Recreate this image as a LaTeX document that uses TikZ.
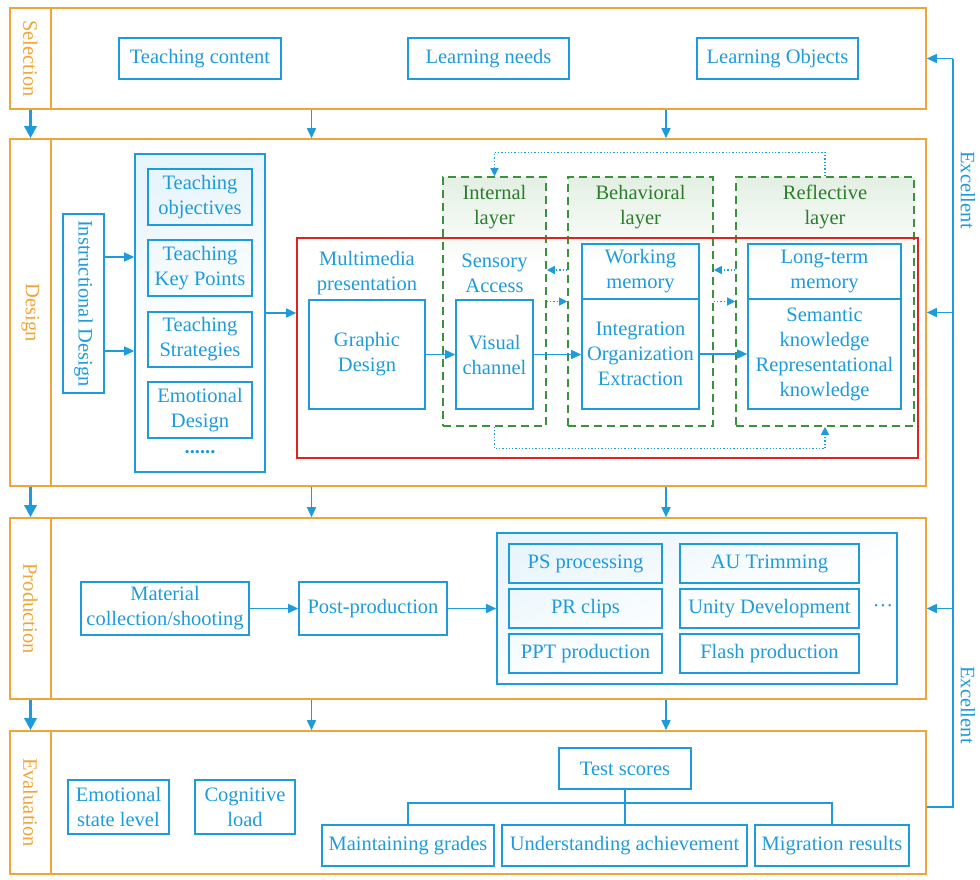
\documentclass[tikz,border=0pt]{standalone}
\usepackage{graphicx}
\usepackage{fontspec}
\setmainfont{Liberation Serif}
\usetikzlibrary{arrows.meta,calc,shadings}
\definecolor{bl}{RGB}{30,155,220}
\definecolor{org}{RGB}{240,165,55}
\definecolor{gr}{RGB}{60,145,60}
\definecolor{dg}{RGB}{45,125,45}
\definecolor{rd}{RGB}{225,35,30}
\colorlet{gfade}{gr!14}
\colorlet{bfade}{bl!10}
\pgfdeclareverticalshading{greenfade}{100bp}{color(0bp)=(white); color(57bp)=(white); color(75bp)=(gfade); color(100bp)=(gfade)}
\pgfdeclareverticalshading{bluefade}{100bp}{color(0bp)=(white); color(45bp)=(white); color(75bp)=(bfade); color(100bp)=(bfade)}
\tikzset{
  box/.style={draw=bl, line width=1.6pt, text=bl, align=center, inner sep=0pt},
  stage/.style={draw=org, line width=1.6pt, inner sep=0pt},
  stagelab/.style={stage, text=org},
  arr/.style={draw=bl, line width=1.5pt, -{Triangle[length=10pt,width=9pt]}},
  thickarr/.style={draw=bl, line width=3pt, -{Triangle[length=12pt,width=12pt]}},
  dotarr/.style={draw=bl, line width=1.3pt, dotted, -{Triangle[length=8pt,width=8pt]}},
  line/.style={draw=bl, line width=1.5pt},
  layer/.style={draw=gr, line width=1.6pt, dash pattern=on 8pt off 5pt, shading=greenfade, inner sep=0pt},
  panel/.style={box, shading=bluefade, shading angle=20},
  layertxt/.style={text=dg, align=center},
  btxt/.style={text=bl, align=center}
}
\begin{document}
\begin{tikzpicture}[x=1pt,y=-1pt, font=\fontsize{20.5}{25}\selectfont]
\useasboundingbox (0,0) rectangle (980,879);

% ---------- stages ----------
\node[stagelab, minimum width=41, minimum height=101] (sell) at (30.5,58.5) {\rotatebox{-90}{Selection}};
\node[stage, minimum width=875, minimum height=101] (sel) at (488.5,58.5) {};
\node[stagelab, minimum width=41, minimum height=347] (desl) at (30.5,312.5) {\rotatebox{-90}{Design}};
\node[stage, minimum width=875, minimum height=347] (des) at (488.5,312.5) {};
\node[stagelab, minimum width=41, minimum height=181] (prol) at (30.5,608.5) {\rotatebox{-90}{Production}};
\node[stage, minimum width=875, minimum height=181] (pro) at (488.5,608.5) {};
\node[stagelab, minimum width=41, minimum height=143] (eval) at (30.5,802.5) {\rotatebox{-90}{Evaluation}};
\node[stage, minimum width=875, minimum height=143] (eva) at (488.5,802.5) {};

% ---------- selection ----------
\node[box, minimum width=162, minimum height=41] (tc) at (200,58.5) {Teaching content};
\node[box, minimum width=161, minimum height=41] (ln) at (488.5,58.5) {Learning needs};
\node[box, minimum width=161, minimum height=41] (lo) at (777.5,58.5) {Learning Objects};

% ---------- design ----------
\node[box, minimum width=41, minimum height=179] (id) at (83.5,303.5) {\rotatebox{-90}{Instructional Design}};
\node[panel, minimum width=130, minimum height=318] (td) at (200,313) {};
\node[box, minimum width=104, minimum height=56] (obj) at (200,197) {Teaching\\objectives};
\node[box, minimum width=104, minimum height=56] (key) at (200,268) {Teaching\\Key Points};
\node[box, minimum width=104, minimum height=55] (str) at (200,339.5) {Teaching\\Strategies};
\node[box, minimum width=104, minimum height=56] (emo) at (200,410) {Emotional\\Design};
\node[btxt] (dots) at (200,452) {\textbf{......}};

\node[layer, minimum width=103, minimum height=249] (il) at (494.5,301.5) {};
\node[layer, minimum width=145, minimum height=249] (bhl) at (640.5,301.5) {};
\node[layer, minimum width=178, minimum height=249] (rl) at (825,301.5) {};
\node[draw=rd, line width=1.6pt, minimum width=621, minimum height=220, inner sep=0pt] (rb) at (607.5,348) {};

\node[layertxt] (ilt) at (494.5,207) {Internal\\layer};
\node[layertxt] (bhlt) at (640.5,207) {Behavioral\\layer};
\node[layertxt] (rlt) at (825,207) {Reflective\\layer};

\node[btxt] (mmt) at (367,273) {Multimedia\\presentation};
\node[box, minimum width=116, minimum height=109] (gd) at (367,354.5) {Graphic\\Design};
\node[btxt] (sat) at (494.5,273) {Sensory\\Access};
\node[box, minimum width=77, minimum height=109] (vc) at (494.5,354.5) {Visual\\channel};
\node[box, minimum width=117, minimum height=55] (wm) at (640.5,271.5) {Working\\memory};
\node[box, minimum width=117, minimum height=110] (ioe) at (640.5,354) {Integration\\Organization\\Extraction};
\node[box, minimum width=153, minimum height=55] (ltm) at (824.5,271.5) {Long-term\\memory};
\node[box, minimum width=153, minimum height=110] (sk) at (824.5,354) {Semantic\\knowledge\\Representational\\knowledge};

\path ($(id.east)+(0,-46.5)$) coordinate (a1) ($(id.east)+(0,47.5)$) coordinate (a2);
\draw[arr] (a1) -- (a1 -| td.west);
\draw[arr] (a2) -- (a2 -| td.west);
\draw[arr] (td.east) -- (td.east -| rb.west);
\draw[arr] (gd) -- (vc);
\draw[arr] (vc.east) -- (vc.east -| ioe.west);
\draw[arr] (ioe) -- (sk);

\path ($(il.east)+(0,-31.5)$) coordinate (d1) ($(bhl.east)+(0,-31.5)$) coordinate (d2);
\draw[dotarr] (d1 -| bhl.west) -- (d1);
\draw[dotarr] (il.east) -- (bhl.west);
\draw[dotarr] (d2 -| rl.west) -- (d2);
\draw[dotarr] (bhl.east) -- (rl.west);
\draw[dotarr] (rl.north) -- ++(0,-24) -| (il.north);
\draw[dotarr] (il.south) -- ++(0,22) -| (rl.south);

% ---------- production ----------
\node[box, minimum width=168, minimum height=53] (mc) at (165,608.5) {Material\\collection/shooting};
\node[box, minimum width=148, minimum height=53] (pp) at (373,608.5) {Post-production};
\node[panel, minimum width=400, minimum height=151] (pt) at (697,608.5) {};
\node[box, minimum width=153, minimum height=39] (ps) at (585.5,563.5) {PS processing};
\node[box, minimum width=179, minimum height=39] (au) at (769.5,563.5) {AU Trimming};
\node[box, minimum width=153, minimum height=39] (pr) at (585.5,608.5) {PR clips};
\node[box, minimum width=179, minimum height=39] (ud) at (769.5,608.5) {Unity Development};
\node[box, minimum width=153, minimum height=39] (ppt) at (585.5,653.5) {PPT production};
\node[box, minimum width=179, minimum height=39] (fl) at (769.5,653.5) {Flash production};
\node[btxt] (more) at (883,608.5) {···};
\draw[arr] (mc) -- (pp);
\draw[arr] (pp) -- (pt);

% ---------- evaluation ----------
\node[box, minimum width=101, minimum height=54] (esl) at (118.5,807) {Emotional\\state level};
\node[box, minimum width=100, minimum height=54] (cl) at (245,807) {Cognitive\\load};
\node[box, minimum width=132, minimum height=41] (ts) at (625,768.5) {Test scores};
\node[box, minimum width=172, minimum height=41] (mg) at (408,845.5) {Maintaining grades};
\node[box, minimum width=245, minimum height=41] (ua) at (624.5,845.5) {Understanding achievement};
\node[box, minimum width=154, minimum height=41] (mr) at (832,845.5) {Migration results};
\draw[line] (ts.south) -- ++(0,13) coordinate (br);
\draw[line] (mg.north) |- (br) -| (mr.north);
\draw[line] (br) -- (br |- ua.north);

% ---------- stage arrows ----------
\coordinate (ca) at (311.5,0);
\coordinate (cb) at (666,0);
\draw[thickarr] (sell.south) -- (desl.north);
\draw[thickarr] (desl.south) -- (prol.north);
\draw[thickarr] (prol.south) -- (eval.north);
\draw[arr] (sel.south -| ca) -- (des.north -| ca);
\draw[arr] (sel.south -| cb) -- (des.north -| cb);
\draw[arr] (des.south -| ca) -- (pro.north -| ca);
\draw[arr] (des.south -| cb) -- (pro.north -| cb);
\draw[arr] (pro.south -| ca) -- (eva.north -| ca);
\draw[arr] (pro.south -| cb) -- (eva.north -| cb);

% ---------- excellent feedback ----------
\coordinate (xb) at (953,807);
\coordinate (xt) at (953,58.5);
\draw[line] (eva.east |- xb) -- (xb) -- (xt);
\draw[arr] (xt) -- (sel.east);
\draw[arr] (des.east -| xb) -- (des.east);
\draw[arr] (pro.east -| xb) -- (pro.east);
\node[btxt, rotate=-90] (ex1) at (968,190) {Excellent};
\node[btxt, rotate=-90] (ex2) at (968,705) {Excellent};
\end{tikzpicture}
\end{document}
